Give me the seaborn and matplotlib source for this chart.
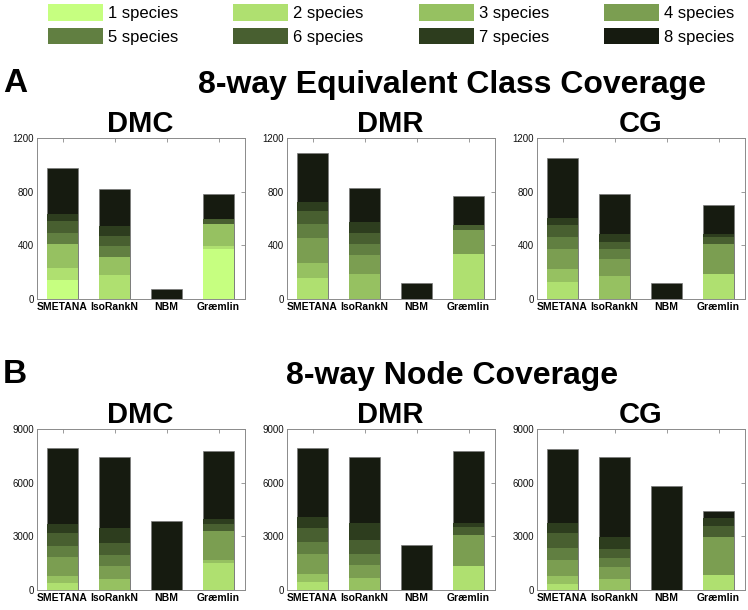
import numpy as np
import matplotlib
matplotlib.use("Agg")
import matplotlib.pyplot as plt
import seaborn as sns
from matplotlib.patches import Patch

# ---------------- data ----------------
methods = ["SMETANA", "IsoRankN", "NBM", "Græmlin"]
species_labels = ["1 species", "2 species", "3 species", "4 species",
                  "5 species", "6 species", "7 species", "8 species"]
species_colors = ["#c6ff80", "#afe070", "#96c161", "#7b9e51",
                  "#617f41", "#485f30", "#2d3d1e", "#161b10"]
datasets = ["DMC", "DMR", "CG"]

# rows = 1..8 species, columns = SMETANA, IsoRankN, NBM, Græmlin
class_dmc = [[142, 0, 0, 375], [91, 179, 0, 17], [177, 131, 0, 167], [0, 0, 0, 0],
             [84, 87, 0, 0], [87, 75, 0, 37], [52, 74, 0, 0], [343, 271, 75, 184]]
class_dmr = [[0, 0, 0, 0], [154, 0, 0, 333], [112, 186, 0, 0], [191, 142, 0, 181],
             [102, 82, 0, 0], [97, 82, 0, 37], [69, 79, 0, 0], [360, 254, 119, 214]]
class_cg = [[0, 0, 0, 0], [129, 0, 0, 186], [95, 171, 0, 0], [146, 127, 0, 224],
            [90, 72, 0, 0], [91, 57, 0, 50], [55, 57, 0, 24], [445, 296, 122, 214]]

node_dmc = [[0, 0, 0, 0], [410, 0, 0, 1528], [372, 615, 0, 149], [1062, 726, 0, 1639],
            [634, 615, 0, 0], [726, 671, 0, 373], [503, 857, 0, 279], [4214, 3951, 3838, 3819]]
node_dmr = [[0, 0, 0, 0], [428, 0, 0, 1341], [448, 671, 0, 0], [1136, 745, 0, 1714],
            [671, 615, 0, 0], [782, 745, 0, 485], [596, 969, 0, 223], [3858, 3707, 2496, 4024]]
node_cg = [[0, 0, 0, 0], [354, 0, 0, 857], [410, 615, 0, 0], [894, 670, 0, 2124],
           [689, 485, 0, 0], [820, 521, 0, 615], [596, 690, 0, 409], [4099, 4471, 5794, 392]]

class_ticks = [0, 400, 800, 1200]
node_ticks = [0, 3000, 6000, 9000]

# ---------------- style ----------------
sns.set_style("white")
plt.rcParams["font.family"] = ["Liberation Sans", "DejaVu Sans"]
plt.rcParams["text.color"] = "black"
plt.rcParams["xtick.color"] = "black"
plt.rcParams["ytick.color"] = "black"

W, H = 748, 610
fig = plt.figure(figsize=(W / 100, H / 100), dpi=100)
GRAY = "#8a8a8a"


def px_axes(x0, y_top, w, h):
    return fig.add_axes([x0 / W, 1 - (y_top + h) / H, w / W, h / H])


def draw_panel(ax, table, ticks, title):
    cum = np.cumsum(np.array(table, dtype=float), axis=0)
    for k in range(7, -1, -1):
        edge = dict(linewidth=0.5, edgecolor="#7a7a7a") if k == 7 else dict(linewidth=0)
        sns.barplot(x=methods, y=cum[k], order=methods, color=species_colors[k],
                    width=0.6, saturation=1, errorbar=None, ax=ax, **edge)
    ax.set_xlim(-0.5, 3.5)
    ax.set_ylim(ticks[0], ticks[-1])
    ax.set_yticks(ticks)
    ax.set_yticklabels([str(t) for t in ticks])
    ax.set_xlabel("")
    ax.set_ylabel("")
    ax.tick_params(axis="both", direction="in", top=True, right=True, length=3,
                   width=0.6, color=GRAY, pad=2)
    ax.tick_params(axis="y", labelsize=7, labelcolor="#111111")
    ax.tick_params(axis="x", labelsize=7.5, labelcolor="black")
    for lbl in ax.get_xticklabels():
        lbl.set_fontweight("bold")
    for sp in ax.spines.values():
        sp.set_visible(True)
        sp.set_color(GRAY)
        sp.set_linewidth(0.7)
    ax.set_title(title, fontsize=21, fontweight="bold", pad=4, color="black")


x_lefts = [36.5, 286.5, 536.5]
class_tables = [class_dmc, class_dmr, class_cg]
node_tables = [node_dmc, node_dmr, node_cg]
for i in range(3):
    ax = px_axes(x_lefts[i], 138, 208, 161)
    draw_panel(ax, class_tables[i], class_ticks, datasets[i])
    ax = px_axes(x_lefts[i], 429, 208, 161)
    draw_panel(ax, node_tables[i], node_ticks, datasets[i])

# section labels and titles
fig.text(15 / W, 1 - 92 / H, "A", fontsize=24, fontweight="bold", ha="center", va="baseline")
fig.text(452 / W, 1 - 93 / H, "8-way Equivalent Class Coverage", fontsize=23,
         fontweight="bold", ha="center", va="baseline")
fig.text(15 / W, 1 - 383 / H, "B", fontsize=24, fontweight="bold", ha="center", va="baseline")
fig.text(452 / W, 1 - 384 / H, "8-way Node Coverage", fontsize=23,
         fontweight="bold", ha="center", va="baseline")

# legend (row-wise order)
order = [0, 4, 1, 5, 2, 6, 3, 7]
handles = [Patch(facecolor=species_colors[i], edgecolor="none", label=species_labels[i]) for i in order]
fig.legend(handles=handles, ncol=4, loc="upper left", bbox_to_anchor=(48 / W, 1 - 4 / H),
           frameon=False, fontsize=12, handlelength=3.3, handleheight=1.15,
           handletextpad=0.3, columnspacing=3.3, labelspacing=0.42,
           borderpad=0, borderaxespad=0)

fig.savefig("out.png", dpi=100)
